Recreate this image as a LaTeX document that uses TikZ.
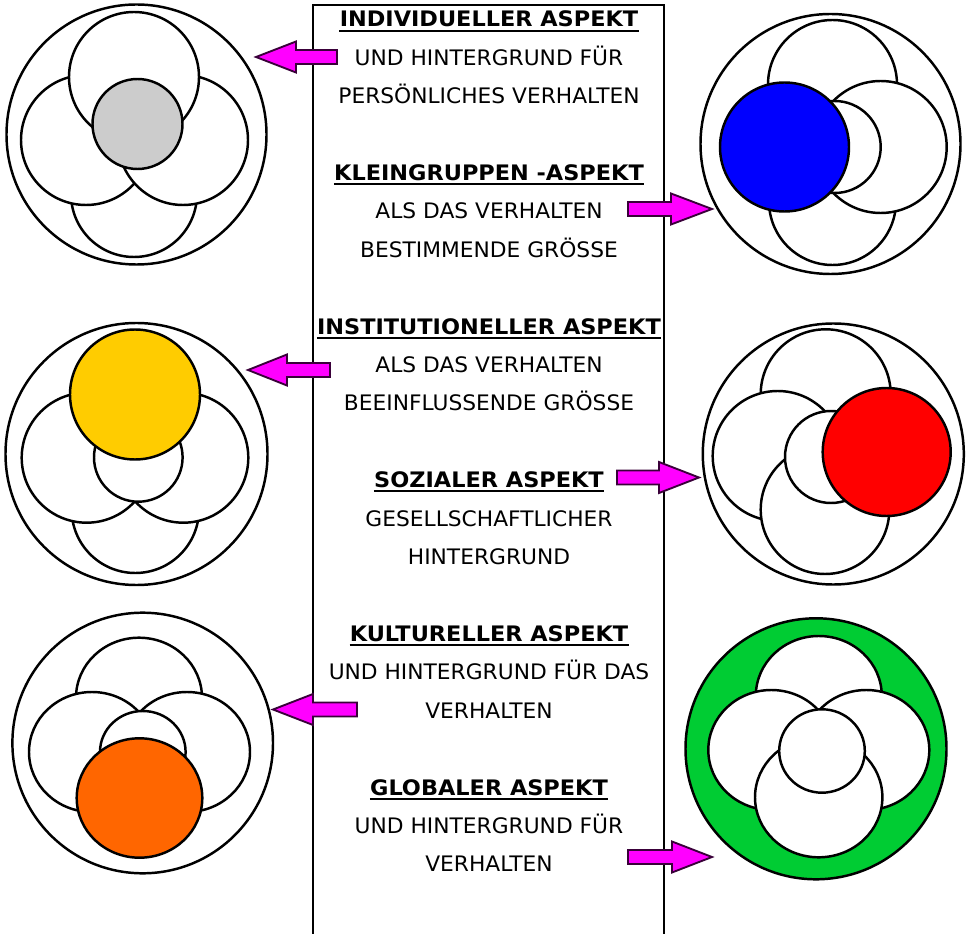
\documentclass[tikz,border=0pt]{standalone}
\usepackage{fontspec}
\setmainfont{DejaVu Sans}
\usepackage{graphicx}
\definecolor{magA}{HTML}{FF00FF}
\definecolor{magEdge}{HTML}{3A003A}
\definecolor{cGray}{HTML}{CCCCCC}
\definecolor{cBlue}{HTML}{0000FF}
\definecolor{cYellow}{HTML}{FFCC00}
\definecolor{cRed}{HTML}{FF0000}
\definecolor{cOrange}{HTML}{FF6600}
\definecolor{cGreen}{HTML}{00CC33}
\newcommand\widereg[1]{\scalebox{1.02}[1]{#1}}
\newcommand\widebold[1]{\scalebox{1.05}[1]{#1}}
\newcommand\magarrowL[4]{\draw[marrow] (#1,#2) -- (#3,#2-15.5) -- (#3,#2-7) -- (#4,#2-7) -- (#4,#2+7) -- (#3,#2+7) -- (#3,#2+15.5) -- cycle;}
\newcommand\magarrowR[4]{\draw[marrow] (#1,#2) -- (#3,#2-15.5) -- (#3,#2-7) -- (#4,#2-7) -- (#4,#2+7) -- (#3,#2+7) -- (#3,#2+15.5) -- cycle;}
\tikzset{
  txt/.style={anchor=base, inner sep=0pt, font=\fontsize{16}{19}\selectfont},
  headtxt/.style={anchor=base, inner sep=0pt, font=\fontsize{16}{19}\selectfont\bfseries},
  uline/.style={line width=1.5pt},
  ring/.style={draw=black, line width=1.85pt, fill=white},
  boxline/.style={draw=black, line width=1.4pt},
  marrow/.style={draw=magEdge, line width=1.4pt, fill=magA, line join=miter},
}
\begin{document}
\begin{tikzpicture}[x=0.75pt,y=-0.75pt]
\useasboundingbox (0,0) rectangle (968,934);
\clip (0,0) rectangle (968,934);
\fill[white] (0,0) rectangle (968,934);

% central frame
\draw[boxline] (313,945) -- (313,5) -- (664,5) -- (664,945);

% texts
\node[headtxt] (h1) at (489,27) {\widebold{INDIVIDUELLER ASPEKT}};
\node[txt] (t1a) at (489,65.4) {\widereg{UND HINTERGRUND FÜR}};
\node[txt] (t1b) at (489,103.8) {\widereg{PERSÖNLICHES VERHALTEN}};
\node[headtxt] (h2) at (489,180.6) {\widebold{KLEINGRUPPEN -ASPEKT}};
\node[txt] (t2a) at (489,219) {\widereg{ALS DAS VERHALTEN}};
\node[txt] (t2b) at (489,257.4) {\widereg{BESTIMMENDE GRÖSSE}};
\node[headtxt] (h3) at (489,334.2) {\widebold{INSTITUTIONELLER ASPEKT}};
\node[txt] (t3a) at (489,372.6) {\widereg{ALS DAS VERHALTEN}};
\node[txt] (t3b) at (489,411) {\widereg{BEEINFLUSSENDE GRÖSSE}};
\node[headtxt] (h4) at (489,487.8) {\widebold{SOZIALER ASPEKT}};
\node[txt] (t4a) at (489,526.2) {\widereg{GESELLSCHAFTLICHER}};
\node[txt] (t4b) at (489,564.6) {\widereg{HINTERGRUND}};
\node[headtxt] (h5) at (489,641.4) {\widebold{KULTURELLER ASPEKT}};
\node[txt] (t5a) at (489,679.8) {\widereg{UND HINTERGRUND FÜR DAS}};
\node[txt] (t5b) at (489,718.2) {\widereg{VERHALTEN}};
\node[headtxt] (h6) at (489,795) {\widebold{GLOBALER ASPEKT}};
\node[txt] (t6a) at (489,833.4) {\widereg{UND HINTERGRUND FÜR}};
\node[txt] (t6b) at (489,871.8) {\widereg{VERHALTEN}};
\foreach \h in {h1,h2,h3,h4,h5,h6}
  \draw[uline] ([yshift=-2.7pt]\h.base west) -- ([yshift=-2.7pt]\h.base east);

% circle 1 (top left)
\draw[ring] (136.5,134.5) circle[radius=130];
\draw[ring] (134,194) circle[radius=63];
\draw[ring] (86,140) circle[radius=65];
\draw[ring] (183,140) circle[radius=65];
\draw[ring] (134,77) circle[radius=65];
\draw[ring, fill=cGray] (137.5,124) circle[radius=45];

% circle 2 (top right)
\draw[ring] (830.5,144) circle[radius=130];
\draw[ring] (832.5,84.5) circle[radius=64.5];
\draw[ring] (832.5,201.5) circle[radius=63.5];
\draw[ring] (880.7,147) circle[radius=66];
\draw[ring] (834.7,147) circle[radius=46];
\draw[ring, fill=cBlue] (784.5,147) circle[radius=64.5];

% circle 3 (middle left)
\draw[ring] (136.5,454) circle[radius=131];
\draw[ring] (135.3,509.3) circle[radius=63.7];
\draw[ring] (86.7,457.7) circle[radius=65];
\draw[ring] (183.3,457.7) circle[radius=65];
\draw[ring] (138.3,457.4) circle[radius=44.3];
\draw[ring, fill=cYellow] (135,394.5) circle[radius=65];

% circle 4 (middle right)
\draw[ring] (833.3,454) circle[radius=130.5];
\draw[ring] (825.7,394.3) circle[radius=65];
\draw[ring] (777.7,456) circle[radius=65];
\draw[ring] (825,509.7) circle[radius=64.3];
\draw[ring] (831,457) circle[radius=46];
\draw[ring, fill=cRed] (886.7,452) circle[radius=64];

% circle 5 (bottom left)
\draw[ring] (142.7,743) circle[radius=130.3];
\draw[ring] (139,697.7) ellipse[x radius=63, y radius=60];
\draw[ring] (92,752) ellipse[x radius=63, y radius=60];
\draw[ring] (187,752) ellipse[x radius=63, y radius=60];
\draw[ring] (142.8,752) ellipse[x radius=42.8, y radius=41];
\draw[ring, fill=cOrange] (139.5,798) ellipse[x radius=62.8, y radius=59.7];

% circle 6 (bottom right)
\draw[ring, fill=cGreen] (816,748.8) circle[radius=130.5];
\draw[ring] (818.8,696) ellipse[x radius=63, y radius=60];
\draw[ring] (771.3,750) ellipse[x radius=63, y radius=60];
\draw[ring] (866.3,750) ellipse[x radius=63, y radius=60];
\draw[ring] (818.7,797.3) ellipse[x radius=63.7, y radius=60];
\draw[ring] (822,751) ellipse[x radius=42.8, y radius=41.7];

% block arrows
\magarrowL{256}{57}{296}{337}
\magarrowR{712}{209}{671}{628}
\magarrowL{248}{370}{287}{330}
\magarrowR{699}{477.5}{659}{617}
\magarrowL{273}{709.5}{313}{357}
\magarrowR{712}{857}{672}{628}
\end{tikzpicture}
\end{document}
